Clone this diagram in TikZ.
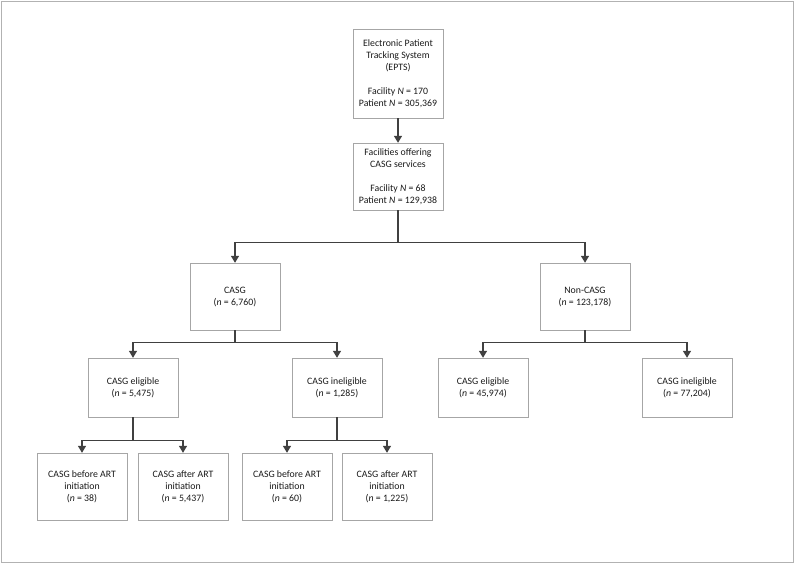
\documentclass[tikz,border=0pt]{standalone}
\usepackage{fontspec}
\setmainfont{Carlito}
\usetikzlibrary{arrows.meta}

\begin{document}
\begin{tikzpicture}[x=1pt,y=-1pt,
  font=\fontsize{9.8}{12}\selectfont,
  box/.style={draw=black!35,thin,text=black!90,align=center,minimum width=90pt,inner sep=2pt},
  conn/.style={black!75,line width=1.3pt,-{Triangle[width=8pt,length=7pt]}}]
\useasboundingbox (0,0) rectangle (796,567);
% --- outer frame ---
\draw[black!30,line width=0.9pt] (1.5,1.5) rectangle (793,562);
% --- top of the chart ---
\node[box,minimum height=89pt] (epts) at (398,73.5)
  {Electronic Patient\\Tracking System\\(EPTS)\\[12pt]Facility \textit{N} = 170\\Patient \textit{N} = 305,369};
\node[box,minimum height=67pt] (fac) at (398,176.5)
  {Facilities offering\\CASG services\\[12pt]Facility \textit{N} = 68\\Patient \textit{N} = 129,938};
\node[box,minimum height=67pt] (casg) at (235,296.5) {CASG\\(\textit{n} = 6,760)};
\node[box,minimum height=67pt] (noncasg) at (585,296.5) {Non-CASG\\(\textit{n} = 123,178)};
% --- eligibility ---
\node[box,minimum height=59pt] (elig) at (133,387.5) {CASG eligible\\(\textit{n} = 5,475)};
\node[box,minimum height=59pt] (inel) at (337,387.5) {CASG ineligible\\(\textit{n} = 1,285)};
\node[box,minimum height=59pt] (neelig) at (483,387.5) {CASG eligible\\(\textit{n} = 45,974)};
\node[box,minimum height=59pt] (neinel) at (687,387.5) {CASG ineligible\\(\textit{n} = 77,204)};
% --- timing of CASG ---
\node[box,minimum height=67pt] (eligbef) at (82,486.5) {CASG before ART\\initiation\\(\textit{n} = 38)};
\node[box,minimum height=67pt] (eligaft) at (183,486.5) {CASG after ART\\initiation\\(\textit{n} = 5,437)};
\node[box,minimum height=67pt] (inelbef) at (287,486.5) {CASG before ART\\initiation\\(\textit{n} = 60)};
\node[box,minimum height=67pt] (inelaft) at (387,486.5) {CASG after ART\\initiation\\(\textit{n} = 1,225)};
% --- connectors ---
\draw[conn] (epts) -- (fac);
\foreach \c in {casg,noncasg} \draw[conn] (fac.south) -- ++(0,32) -| (\c.north);
\foreach \c in {elig,inel} \draw[conn] (casg.south) -- ++(0,12) -| (\c.north);
\foreach \c in {neelig,neinel} \draw[conn] (noncasg.south) -- ++(0,12) -| (\c.north);
\foreach \c in {eligbef,eligaft} \draw[conn] (elig.south) -- ++(0,23) -| (\c.north);
\foreach \c in {inelbef,inelaft} \draw[conn] (inel.south) -- ++(0,23) -| (\c.north);
\end{tikzpicture}
\end{document}
